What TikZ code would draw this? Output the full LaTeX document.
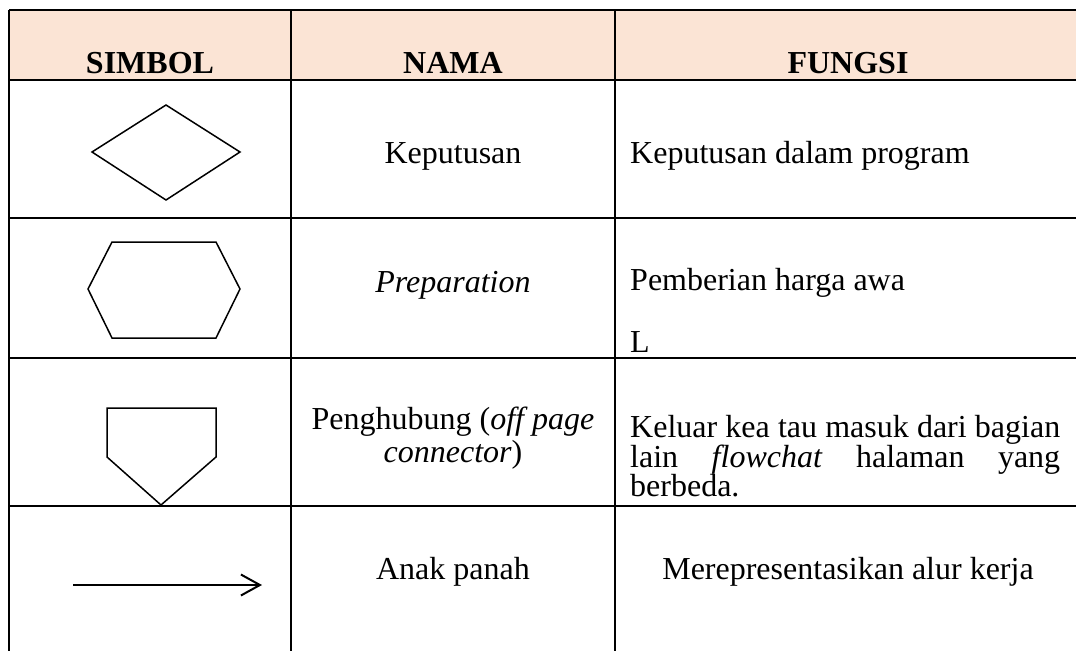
\documentclass[tikz,border=0pt]{standalone}
\usepackage{fontspec}
\setmainfont{Liberation Serif}
\usetikzlibrary{arrows.meta}
\definecolor{headfill}{HTML}{FBE4D5}
\begin{document}
\begin{tikzpicture}[x=1pt,y=-1pt,
  grid/.style={line width=1.4pt,black},
  shapeline/.style={line width=1.5pt,black,line join=miter},
  txt/.style={inner sep=0pt,font=\fontsize{32}{38}\selectfont},
  headtxt/.style={txt,font=\fontsize{32}{38}\selectfont\bfseries,anchor=base},
  ctr/.style={txt,anchor=base},
  lft/.style={txt,anchor=base west}]
\useasboundingbox (0,0) rectangle (1076,651);
% header band
\fill[headfill] (9,10) rectangle (1076,80);
% grid
\draw[grid] (9,10) -- (1076,10);
\draw[grid] (9,80) -- (1076,80);
\draw[grid] (9,218) -- (1076,218);
\draw[grid] (9,358) -- (1076,358);
\draw[grid] (9,506) -- (1076,506);
\draw[grid] (9,10) -- (9,651);
\draw[grid] (291,10) -- (291,651);
\draw[grid] (615,10) -- (615,651);
% header
\node[headtxt] (h1) at (150,73) {SIMBOL};
\node[headtxt] (h2) at (453,73) {NAMA};
\node[headtxt] (h3) at (848,73) {FUNGSI};
% row 1
\draw[shapeline] (92,152) -- (166,105) -- (240,152) -- (166,200) -- cycle;
\node[ctr] (n1) at (453,163) {Keputusan};
\node[lft] (f1) at (630,163) {Keputusan dalam program};
% row 2
\draw[shapeline] (112,242) -- (216,242) -- (240,289) -- (216,338) -- (112,338) -- (88,289) -- cycle;
\node[ctr] (n2) at (453,292) {\itshape Preparation};
\node[lft] (f2a) at (630,290) {Pemberian harga awa};
\node[lft] (f2b) at (630,352) {L};
% row 3
\draw[shapeline] (107,408) -- (216,408) -- (216,457) -- (161,505) -- (107,457) -- cycle;
\node[ctr] (n3a) at (453,429) {Penghubung (\textit{off page}};
\node[ctr] (n3b) at (453,462) {\textit{connector})};
\node[lft] (f3a) at (630,437) {\makebox[430pt][s]{Keluar kea tau masuk dari bagian}};
\node[lft] (f3b) at (630,467) {\makebox[430pt][l]{lain\hfill\textit{flowchat}\hfill halaman\hfill yang}};
\node[lft] (f3c) at (630,496) {berbeda.};
% row 4
\coordinate (a1) at (73,585);
\coordinate (a2) at (262,585);
\draw[line width=2pt,-{Straight Barb[length=19pt,width=21pt,line width=2pt]}] (a1) -- (a2);
\node[ctr] (n4) at (453,579) {Anak panah};
\node[ctr] (f4) at (848,579) {Merepresentasikan alur kerja};
\end{tikzpicture}
\end{document}
